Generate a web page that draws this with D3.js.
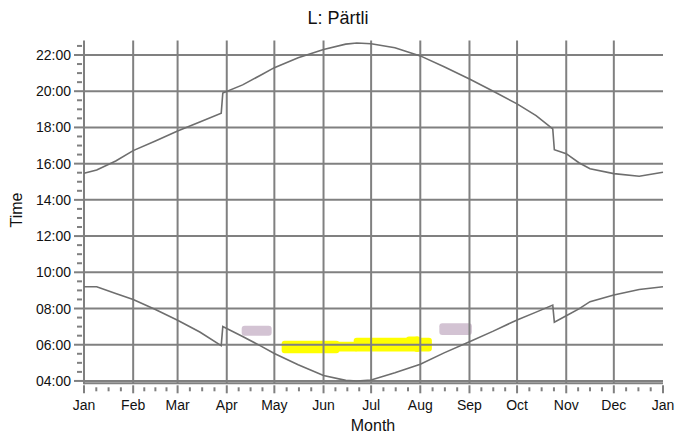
<!DOCTYPE html>
<html>
<head>
<meta charset="utf-8">
<script src="https://cdn.jsdelivr.net/npm/d3@7"></script>
<style>
  body { margin: 0; background: #fff; }
  text { font-family: "Liberation Sans", Arial, sans-serif; fill: #111; }
</style>
</head>
<body>
<div id="chart"></div>
<script>
// data (day of year, decimal hours)
var monthNames = ["Jan","Feb","Mar","Apr","May","Jun","Jul","Aug","Sep","Oct","Nov","Dec","Jan"];
var monthStarts = [0,31,59,90,120,151,181,212,243,273,304,334,365];
var hourTicks = [4,6,8,10,12,14,16,18,20,22];

var days    = [0, 8, 20, 31, 45, 59, 73, 86.5, 87.5, 100, 111, 120, 135, 151, 165, 172, 181, 196, 212, 227, 243, 258, 273, 285, 295.5, 296.5, 304, 312, 319, 334, 350, 365];
var sunset  = [15.47, 15.65, 16.15, 16.72, 17.25, 17.8, 18.3, 18.78, 19.9, 20.35, 20.87, 21.3, 21.85, 22.3, 22.6, 22.66, 22.62, 22.4, 21.95, 21.35, 20.67, 20.0, 19.3, 18.65, 17.92, 16.77, 16.55, 16.05, 15.72, 15.45, 15.3, 15.52];
var sunrise = [9.2, 9.2, 8.83, 8.5, 7.95, 7.35, 6.7, 5.95, 7.0, 6.45, 5.95, 5.52, 4.9, 4.3, 4.03, 4.0, 4.05, 4.45, 4.92, 5.55, 6.17, 6.75, 7.37, 7.8, 8.19, 7.24, 7.6, 7.98, 8.38, 8.75, 9.05, 9.2];

// painted marks
var markStart = [99.4, 224, 124.6, 158, 170, 203, 208];
var markEnd   = [118.3, 244.5, 161, 173, 219.3, 212, 212];
var markLow   = [6.5, 6.54, 5.53, 5.62, 5.62, 5.7, 5.6];
var markHigh  = [7.05, 7.18, 6.22, 6.17, 6.38, 6.46, 6.46];
var markColor = ["#d3c3d3", "#d3c3d3", "#ffff00", "#ffff00", "#ffff00", "#ffff00", "#ffff00"];

var width = 677,
    height = 439,
    margin = {top: 40.5, right: 14, bottom: 55.7, left: 84};

var x = d3.scaleLinear().domain([0, 365]).range([margin.left, width - margin.right]);
var y = d3.scaleLinear().domain([3.87, 22.8]).range([height - margin.bottom, margin.top]);

var gridColor = "#808080";

var svg = d3.select("#chart")
  .append("svg")
    .attr("width", width)
    .attr("height", height);

// marks
svg.append("g").selectAll("rect")
    .data(markStart)
    .enter().append("rect")
      .attr("x", function(d, i) { return x(d); })
      .attr("y", function(d, i) { return y(markHigh[i]); })
      .attr("width", function(d, i) { return x(markEnd[i]) - x(d); })
      .attr("height", function(d, i) { return y(markLow[i]) - y(markHigh[i]); })
      .attr("rx", 3)
      .attr("fill", function(d, i) { return markColor[i]; });

// grid
var grid = svg.append("g").attr("stroke", gridColor).attr("stroke-width", 2);

grid.selectAll(".vg")
    .data(monthStarts.slice(1, 12))
    .enter().append("line")
      .attr("x1", function(d) { return x(d); })
      .attr("x2", function(d) { return x(d); })
      .attr("y1", y.range()[1])
      .attr("y2", y.range()[0]);

grid.selectAll(".hg")
    .data(hourTicks)
    .enter().append("line")
      .attr("x1", x.range()[0])
      .attr("x2", x.range()[1])
      .attr("y1", function(d) { return y(d); })
      .attr("y2", function(d) { return y(d); });

// axis lines
grid.append("line")
    .attr("x1", x.range()[0]).attr("x2", x.range()[0])
    .attr("y1", y.range()[1]).attr("y2", y.range()[0] + 1);
grid.append("line")
    .attr("x1", x.range()[0]).attr("x2", x.range()[1])
    .attr("y1", y.range()[0]).attr("y2", y.range()[0]);

// y ticks
var yMinor = d3.range(4.5, 22.8, 1).concat(d3.range(5, 22, 2));
grid.selectAll(".ymin")
    .data(yMinor)
    .enter().append("line")
      .attr("x1", x.range()[0] - 7).attr("x2", x.range()[0] - 2)
      .attr("y1", function(d) { return y(d); })
      .attr("y2", function(d) { return y(d); });
grid.selectAll(".ymaj")
    .data(hourTicks)
    .enter().append("line")
      .attr("x1", x.range()[0] - 10).attr("x2", x.range()[0])
      .attr("y1", function(d) { return y(d); })
      .attr("y2", function(d) { return y(d); });

svg.append("g").selectAll("text")
    .data(hourTicks)
    .enter().append("text")
      .attr("x", x.range()[0] - 13)
      .attr("y", function(d) { return y(d); })
      .attr("dy", "0.36em")
      .attr("text-anchor", "end")
      .attr("font-size", 14)
      .text(function(d) { return d3.format("02d")(d) + ":00"; });

// x ticks
var xMinor = [];
for (var m = 0; m < 12; m++) {
  var len = monthStarts[m + 1] - monthStarts[m];
  for (var k = 1; k < 4; k++) xMinor.push(monthStarts[m] + len * k / 4);
}
var y0 = y.range()[0];
grid.selectAll(".xmin")
    .data(xMinor)
    .enter().append("line")
      .attr("x1", function(d) { return x(d); })
      .attr("x2", function(d) { return x(d); })
      .attr("y1", y0 + 4).attr("y2", y0 + 8);
grid.selectAll(".xmaj")
    .data(monthStarts)
    .enter().append("line")
      .attr("x1", function(d) { return x(d); })
      .attr("x2", function(d) { return x(d); })
      .attr("y1", y0 + 2).attr("y2", y0 + 10);

svg.append("g").selectAll("text")
    .data(monthStarts)
    .enter().append("text")
      .attr("x", function(d) { return x(d); })
      .attr("y", y0 + 27)
      .attr("text-anchor", "middle")
      .attr("font-size", 14)
      .text(function(d, i) { return monthNames[i]; });

// curves
var line = d3.line()
    .x(function(d) { return x(d[0]); })
    .y(function(d) { return y(d[1]); });

[sunset, sunrise].forEach(function(s) {
  svg.append("path")
      .datum(days.map(function(d, i) { return [d, s[i]]; }))
      .attr("fill", "none")
      .attr("stroke", "#6e6e6e")
      .attr("stroke-width", 1.6)
      .attr("d", line);
});

// titles
svg.append("text")
    .attr("x", 338).attr("y", 24)
    .attr("text-anchor", "middle")
    .attr("font-size", 18)
    .text("L: Pärtli");

svg.append("text")
    .attr("x", 373).attr("y", 431)
    .attr("text-anchor", "middle")
    .attr("font-size", 16)
    .text("Month");

svg.append("text")
    .attr("transform", "translate(22,210) rotate(-90)")
    .attr("text-anchor", "middle")
    .attr("font-size", 16)
    .text("Time");
</script>
</body>
</html>
